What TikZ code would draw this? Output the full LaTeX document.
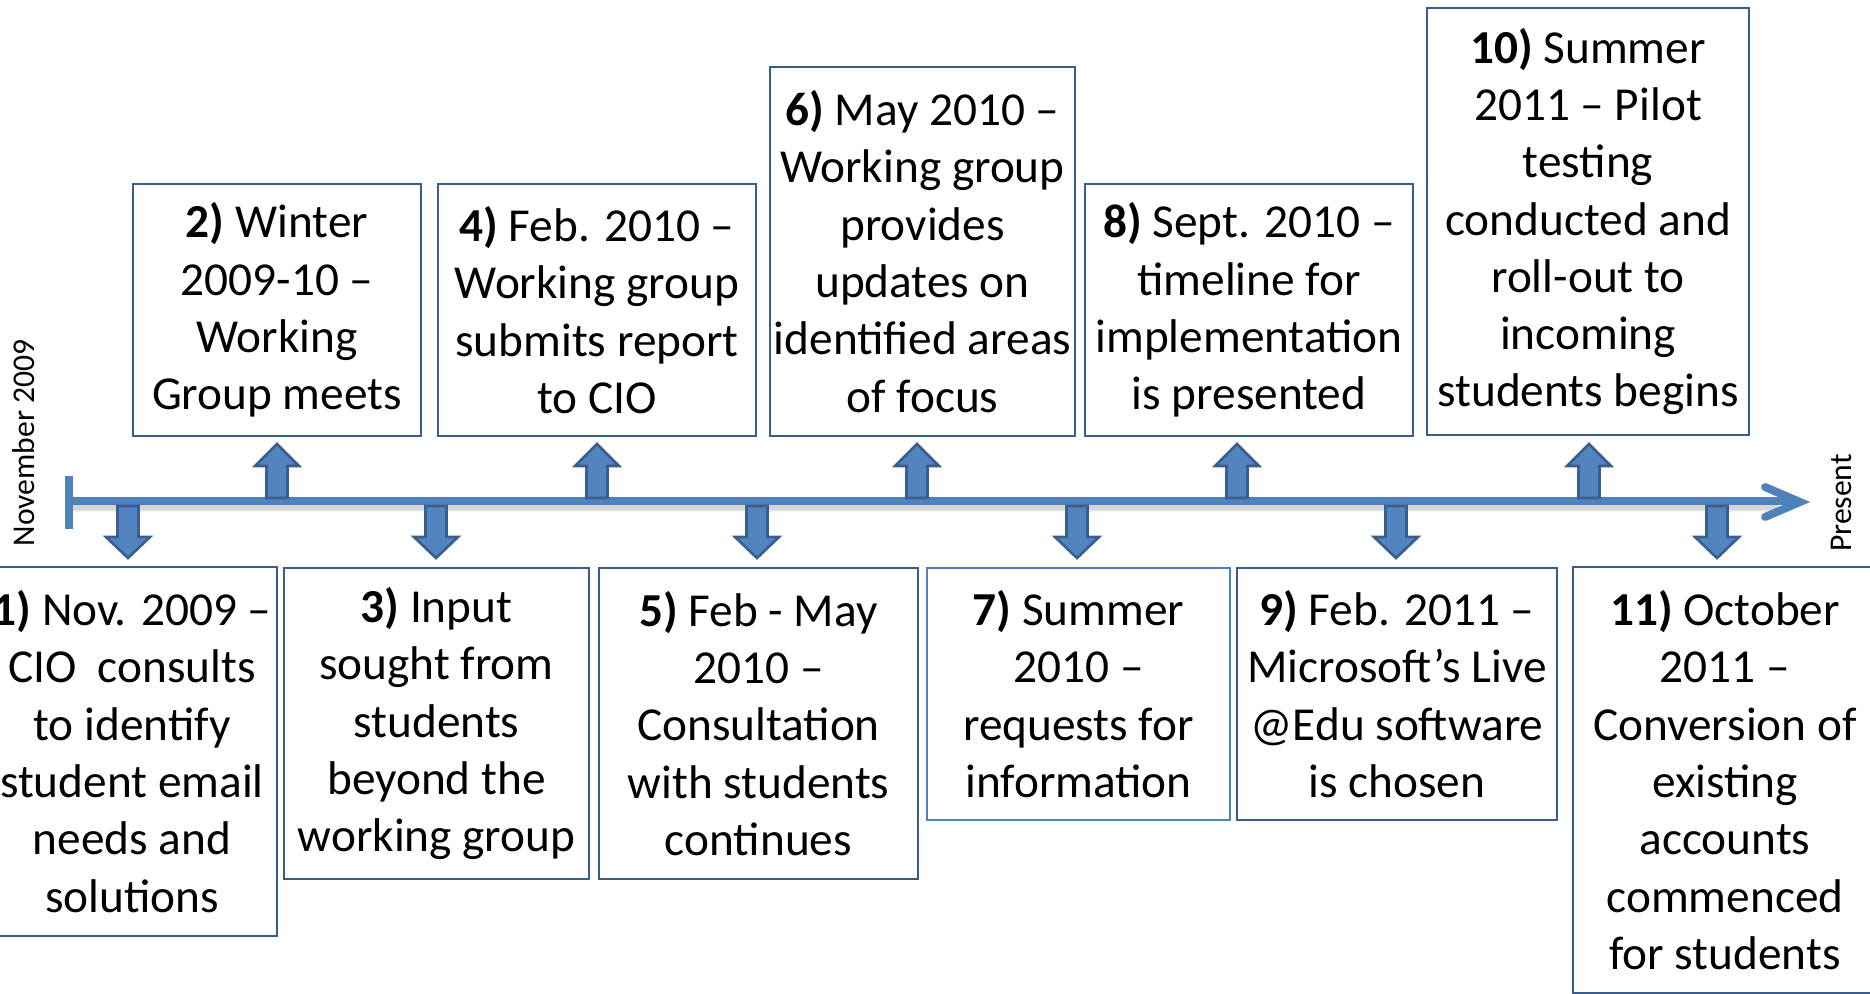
\documentclass[tikz,border=0pt]{standalone}
\usepackage{fontspec}
\setmainfont{Carlito}
\definecolor{boxline}{HTML}{385D8A}
\definecolor{boxlight}{HTML}{4F81BD}
\definecolor{arrfill}{HTML}{5284C0}
\definecolor{arrline}{HTML}{3A5F8E}
\definecolor{tlblue}{HTML}{4F81BD}
\newcommand\boxfont{\fontsize{13.45}{16.3}\selectfont}
\newcommand\sidefont{\fontsize{9}{11}\selectfont}
\tikzset{
  box/.style={draw=boxline, line width=0.6pt, fill=white, align=center, inner sep=0pt, font=\boxfont},
  arrsty/.style={fill=arrfill, draw=arrline, line width=0.75pt, line join=miter},
  tl/.style={draw=tlblue, line width=0.08cm},
  uparr/.pic={\draw[arrsty] (-10.5,0) -- (-10.5,-32) -- (-22,-32) -- (0,-54) -- (22,-32) -- (10.5,-32) -- (10.5,0) -- cycle;},
  downarr/.pic={\draw[arrsty] (-10.5,0) -- (-10.5,31) -- (-22,31) -- (0,52) -- (22,31) -- (10.5,31) -- (10.5,0) -- cycle;}
}
\begin{document}
\begin{tikzpicture}[x=0.01cm, y=-0.01cm]
\useasboundingbox (0,0) rectangle (1870,993);
\clip (0,0) rectangle (1870,993);

% timeline
\coordinate (tstart) at (69,501);
\coordinate (tend) at (1798,501);
\coordinate (tick1) at (69,476);
\coordinate (tick2) at (69,529);
\coordinate (head1) at (1765,487);
\coordinate (head2) at (1765,517);
\coordinate (tip) at (1800,502);
\foreach \w/\o in {0.11/0.04, 0.09/0.06, 0.07/0.08}
  \draw[black, opacity=\o, line width=\w cm] ([yshift=-0.05cm]tstart) -- ([yshift=-0.05cm,xshift=-0.2cm]tend);
\draw[tl] (tstart) -- (tend);
\draw[tl, line cap=butt] (tick1) -- (tick2);
\draw[tl, line cap=round, line join=miter] (head1) -- (tip) -- (head2);

% side labels
\node[rotate=90, font=\sidefont, inner sep=0pt] (nov) at (24,443) {November 2009};
\node[rotate=90, font=\sidefont, inner sep=0pt] (pres) at (1841,503) {Present};

% boxes
\node[box, minimum width=2.90cm, minimum height=3.69cm] (b1) at (132,751.5)
  {\textbf{1)} Nov. 2009 –\\CIO\ \ consults\\to identify\\student email\\needs and\\solutions};
\node[box, minimum width=2.88cm, minimum height=2.52cm] (b2) at (277,310)
  {\textbf{2)} Winter\\2009-10 –\\Working\\Group meets};
\node[box, minimum width=3.05cm, minimum height=3.10cm] (b3) at (436.5,723.5)
  {\textbf{3)} Input\\sought from\\students\\beyond the\\working group};
\node[box, minimum width=3.18cm, minimum height=2.52cm] (b4) at (597,310)
  {\textbf{4)} Feb. 2010 –\\Working group\\submits report\\to CIO};
\node[box, minimum width=3.19cm, minimum height=3.10cm] (b5) at (758.5,723.5)
  {\textbf{5)} Feb - May\\2010 –\\Consultation\\with students\\continues};
\node[box, minimum width=3.05cm, minimum height=3.69cm] (b6) at (922.5,251.5)
  {\textbf{6)} May 2010 –\\Working group\\provides\\updates on\\identified areas\\of focus};
\node[box, draw=boxlight, minimum width=3.03cm, minimum height=2.52cm] (b7) at (1078.5,694)
  {\textbf{7)} Summer\\2010 –\\requests for\\information};
\node[box, minimum width=3.28cm, minimum height=2.52cm] (b8) at (1249,310)
  {\textbf{8)} Sept. 2010 –\\timeline for\\implementation\\is presented};
\node[box, minimum width=3.20cm, minimum height=2.52cm] (b9) at (1397,694)
  {\textbf{9)} Feb. 2011 –\\Microsoft’s Live\\@Edu software\\is chosen};
\node[box, minimum width=3.22cm, minimum height=4.27cm] (b10) at (1588,221.5)
  {\textbf{10)} Summer\\2011 – Pilot\\testing\\conducted and\\roll-out to\\incoming\\students begins};
\node[box, minimum width=3.04cm, minimum height=4.26cm] (b11) at (1725,780)
  {\textbf{11)} October\\2011 –\\Conversion of\\existing\\accounts\\commenced\\for students};

% block arrows from the timeline to the boxes
\foreach \x/\n in {128/1, 436/3, 757/5, 1077/7, 1396/9, 1717/11}
  \coordinate (a\n) at (\x,506);
\foreach \x/\n in {277/2, 597/4, 917/6, 1237/8, 1589/10}
  \coordinate (a\n) at (\x,498);
\foreach \n in {1,3,5,7,9,11} \pic at (a\n) {downarr};
\foreach \n in {2,4,6,8,10} \pic at (a\n) {uparr};
\end{tikzpicture}
\end{document}
